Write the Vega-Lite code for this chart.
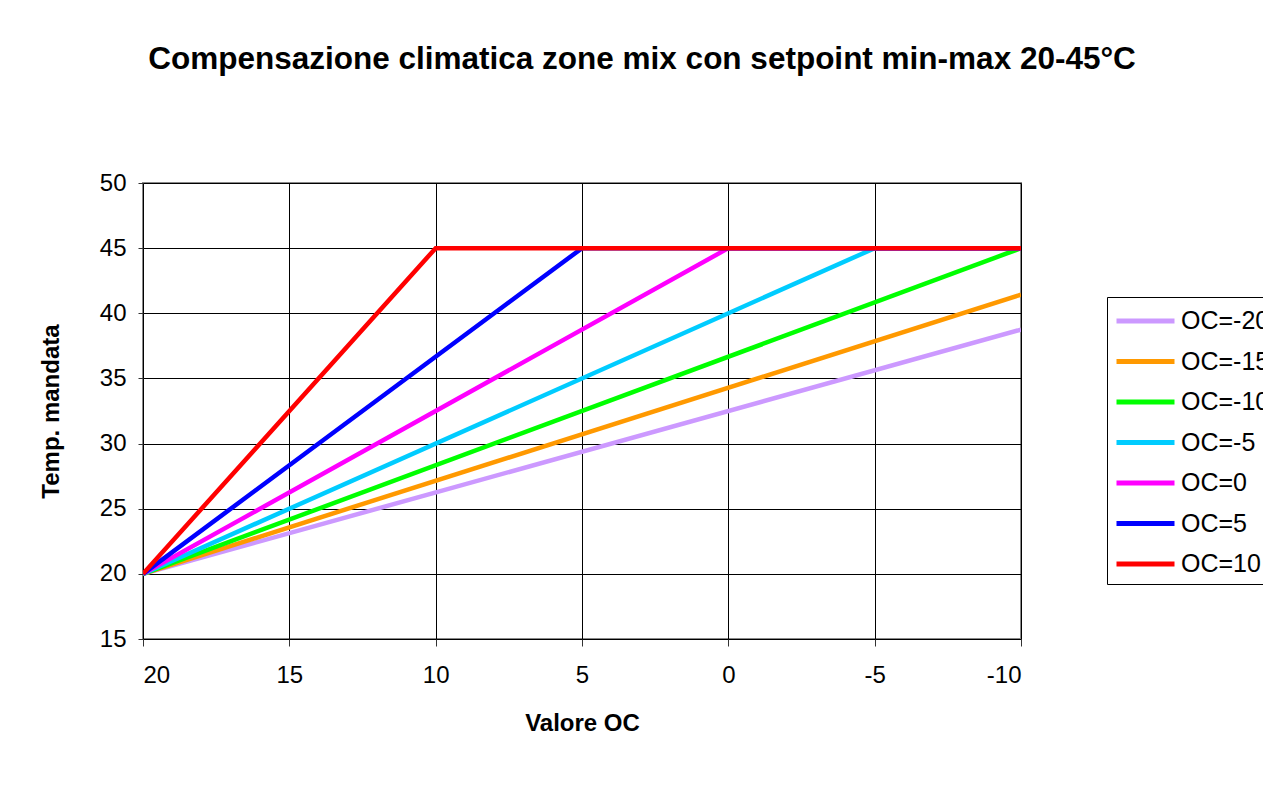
{
  "$schema": "https://vega.github.io/schema/vega-lite/v6.json",
  "width": 878,
  "height": 456,
  "autosize": {"type": "none"},
  "padding": {"left": 143, "top": 183, "right": 242, "bottom": 148},
  "background": "white",
  "title": {
    "text": "Compensazione climatica zone mix con setpoint min-max 20-45°C",
    "font": "Liberation Sans",
    "fontSize": 31.5,
    "fontWeight": "bold",
    "color": "black",
    "anchor": "middle",
    "baseline": "alphabetic",
    "offset": 71,
    "dx": 60
  },
  "data": {
    "values": [
      {"series": "OC=-20", "oc": 20, "temp": 20},
      {"series": "OC=-20", "oc": -10, "temp": 38.75},
      {"series": "OC=-15", "oc": 20, "temp": 20},
      {"series": "OC=-15", "oc": -10, "temp": 41.43},
      {"series": "OC=-10", "oc": 20, "temp": 20},
      {"series": "OC=-10", "oc": -10, "temp": 45},
      {"series": "OC=-5", "oc": 20, "temp": 20},
      {"series": "OC=-5", "oc": -5, "temp": 45},
      {"series": "OC=-5", "oc": -10, "temp": 45},
      {"series": "OC=0", "oc": 20, "temp": 20},
      {"series": "OC=0", "oc": 0, "temp": 45},
      {"series": "OC=0", "oc": -10, "temp": 45},
      {"series": "OC=5", "oc": 20, "temp": 20},
      {"series": "OC=5", "oc": 5, "temp": 45},
      {"series": "OC=5", "oc": -10, "temp": 45},
      {"series": "OC=10", "oc": 20, "temp": 20},
      {"series": "OC=10", "oc": 10, "temp": 45},
      {"series": "OC=10", "oc": -10, "temp": 45}
    ]
  },
  "mark": {"type": "line", "strokeWidth": 4.5, "strokeCap": "butt", "strokeJoin": "miter", "clip": true},
  "encoding": {
    "x": {
      "field": "oc",
      "type": "quantitative",
      "title": "Valore OC",
      "scale": {"domain": [-10, 20], "reverse": true, "nice": false, "zero": false},
      "axis": {
        "values": [-10, -5, 0, 5, 10, 15, 20],
        "labelExpr": "'' + datum.value",
        "tickSize": 7,
        "labelPadding": 17,
        "titlePadding": 24
      }
    },
    "y": {
      "field": "temp",
      "type": "quantitative",
      "title": "Temp. mandata",
      "scale": {"domain": [15, 50], "nice": false, "zero": false},
      "axis": {
        "values": [15, 20, 25, 30, 35, 40, 45, 50],
        "tickSize": 5,
        "labelPadding": 12,
        "titlePadding": 36
      }
    },
    "color": {
      "field": "series",
      "type": "nominal",
      "title": null,
      "sort": ["OC=-20", "OC=-15", "OC=-10", "OC=-5", "OC=0", "OC=5", "OC=10"],
      "scale": {
        "domain": ["OC=-20", "OC=-15", "OC=-10", "OC=-5", "OC=0", "OC=5", "OC=10"],
        "range": ["#CC99FF", "#FF9900", "#00FF00", "#00CCFF", "#FF00FF", "#0000FF", "#FF0000"]
      },
      "legend": {
        "orient": "none",
        "legendX": 964,
        "legendY": 114,
        "symbolType": "M-1,0H3",
        "symbolSize": 841,
        "symbolStrokeWidth": 5,
        "symbolStrokeCap": "round",
        "labelFont": "Liberation Sans",
        "labelFontSize": 25,
        "labelColor": "black",
        "labelOffset": 33,
        "labelLimit": 300,
        "rowPadding": 10.5,
        "padding": 7,
        "strokeColor": "black"
      }
    }
  },
  "config": {
    "font": "Liberation Sans",
    "view": {"stroke": "#888888", "strokeWidth": 2},
    "axis": {
      "domain": false,
      "grid": true,
      "gridColor": "black",
      "gridOpacity": 1,
      "gridWidth": 1,
      "tickColor": "#333333",
      "tickWidth": 1,
      "labelFont": "Liberation Sans",
      "labelFontSize": 24,
      "labelColor": "black",
      "titleFont": "Liberation Sans",
      "titleFontSize": 24,
      "titleFontWeight": "bold",
      "titleColor": "black"
    }
  }
}
